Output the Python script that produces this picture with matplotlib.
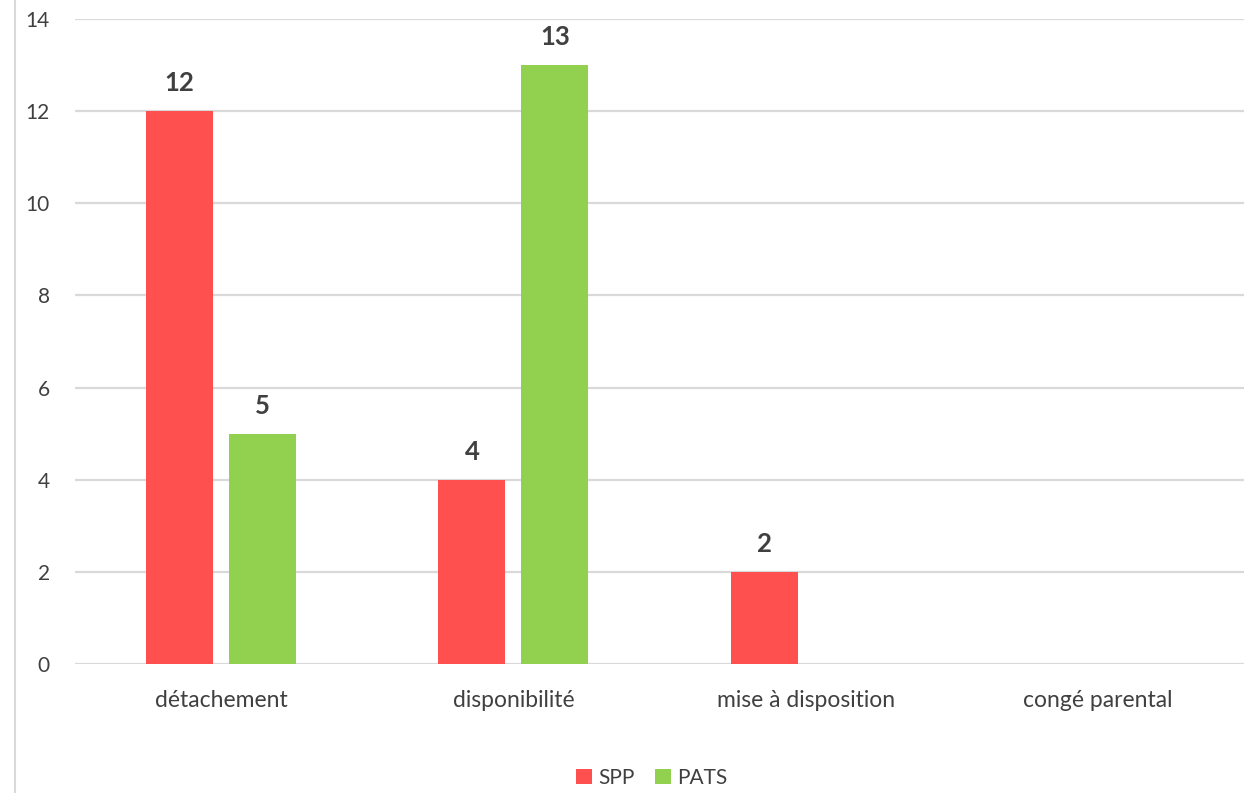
import matplotlib.pyplot as plt
import numpy as np

categories = ["détachement", "disponibilité", "mise à disposition", "congé parental"]
spp = [12, 4, 2, 0]
pats = [5, 13, 0, 0]
series_names = ["SPP", "PATS"]
yticks = [0, 2, 4, 6, 8, 10, 12, 14]

RED = "#FF5050"
GREEN = "#92D050"
GRID = "#D9D9D9"
TEXT = "#404040"

plt.rcParams["font.family"] = ["Lato", "DejaVu Sans"]

fig = plt.figure(figsize=(12.48, 7.93), dpi=100)
ax = fig.add_axes([75 / 1248, 1 - 664 / 793, (1244 - 75) / 1248, (664 - 19) / 793])

x = np.arange(len(categories))
w = 0.23
off = 0.142
b1 = ax.bar(x - off, spp, w, color=RED, label=series_names[0], zorder=3)
b2 = ax.bar(x + off, pats, w, color=GREEN, label=series_names[1], zorder=3)

for bars, vals in ((b1, spp), (b2, pats)):
    for rect, v in zip(bars, vals):
        if v > 0:
            ax.text(rect.get_x() + rect.get_width() / 2, v + 0.35, str(v),
                    ha="center", va="bottom", fontsize=18.5, fontweight="bold", color=TEXT)

ax.set_xlim(-0.5, len(categories) - 0.5)
ax.set_ylim(0, 14)
ax.set_yticks(yticks)
ax.set_xticks(x)
ax.set_xticklabels(categories)
ax.tick_params(axis="both", length=0, colors=TEXT)
ax.tick_params(axis="y", pad=18, labelsize=15)
ax.tick_params(axis="x", pad=19, labelsize=16.5)
ax.grid(axis="y", color=GRID, linewidth=1.6, zorder=0)
for s in ax.spines.values():
    s.set_visible(False)

# chart frame edge on the left
fig.add_artist(plt.Line2D([15 / 1248, 15 / 1248], [0, 1], color=GRID, linewidth=1.5))

fig.legend(handles=[b1, b2], labels=series_names, loc="center", bbox_to_anchor=(652 / 1248, 1 - 778 / 793),
           ncol=2, frameon=False, fontsize=15, handlelength=0.75, handleheight=0.75,
           handletextpad=0.3, columnspacing=1.0, labelcolor=TEXT)

fig.savefig("out.png", dpi=100, facecolor="white")
